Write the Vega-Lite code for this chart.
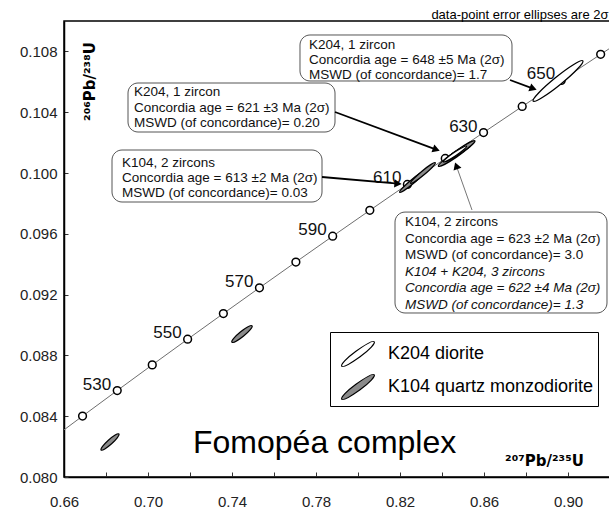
{
  "$schema": "https://vega.github.io/schema/vega-lite/v6.json",
  "width": 546,
  "height": 456,
  "autosize": {"type": "none"},
  "padding": {"left": 64, "top": 21, "right": 0, "bottom": 31},
  "background": "white",
  "title": {"text": "data-point error ellipses are 2σ", "anchor": "end", "fontSize": 13, "fontWeight": "normal", "font": "Liberation Sans", "color": "black", "baseline": "alphabetic", "offset": 4, "dy": 15, "dx": -2},
  "config": {
    "view": {"stroke": "black", "strokeWidth": 1.5},
    "font": "Liberation Sans",
    "axis": {"grid": false, "domainColor": "black", "domainWidth": 1.5, "tickColor": "#333", "tickWidth": 1, "labelColor": "#222", "labelFontSize": 15, "labelFont": "Liberation Sans", "titleColor": "black", "titleFont": "DejaVu Sans"}
  },
  "datasets": {
    "concordia": [
      {"age": 510, "pb207_u235": 0.65247, "pb206_u238": 0.0823274},
      {"age": 520, "pb207_u235": 0.66883, "pb206_u238": 0.0840077},
      {"age": 530, "pb207_u235": 0.68535, "pb206_u238": 0.0856905},
      {"age": 540, "pb207_u235": 0.70203, "pb206_u238": 0.0873761},
      {"age": 550, "pb207_u235": 0.71887, "pb206_u238": 0.0890641},
      {"age": 560, "pb207_u235": 0.73589, "pb206_u238": 0.0907549},
      {"age": 570, "pb207_u235": 0.75307, "pb206_u238": 0.0924482},
      {"age": 580, "pb207_u235": 0.77042, "pb206_u238": 0.0941441},
      {"age": 590, "pb207_u235": 0.78794, "pb206_u238": 0.0958428},
      {"age": 600, "pb207_u235": 0.80563, "pb206_u238": 0.097544},
      {"age": 610, "pb207_u235": 0.82351, "pb206_u238": 0.0992479},
      {"age": 620, "pb207_u235": 0.84155, "pb206_u238": 0.1009545},
      {"age": 630, "pb207_u235": 0.85978, "pb206_u238": 0.1026637},
      {"age": 640, "pb207_u235": 0.87819, "pb206_u238": 0.1043753},
      {"age": 650, "pb207_u235": 0.89678, "pb206_u238": 0.10609},
      {"age": 660, "pb207_u235": 0.91555, "pb206_u238": 0.1078071},
      {"age": 670, "pb207_u235": 0.93451, "pb206_u238": 0.1095269}
    ],
    "concordant": [
      {"sample": "K104 quartz monzodiorite", "pb207_u235": 0.84619, "pb206_u238": 0.101184, "len": 0.01905, "tilt": -34},
      {"sample": "K104 quartz monzodiorite", "pb207_u235": 0.84857, "pb206_u238": 0.101447, "len": 0.01714, "tilt": -34},
      {"sample": "K104 quartz monzodiorite", "pb207_u235": 0.82571, "pb206_u238": 0.099408, "len": 0.01524, "tilt": -40},
      {"sample": "K104 quartz monzodiorite", "pb207_u235": 0.83095, "pb206_u238": 0.1, "len": 0.01524, "tilt": -40},
      {"sample": "K204 diorite", "pb207_u235": 0.84619, "pb206_u238": 0.10125, "len": 0.01333, "tilt": -34},
      {"sample": "K204 diorite", "pb207_u235": 0.89524, "pb206_u238": 0.106053, "len": 0.03048, "tilt": -39}
    ],
    "discordant": [
      {"sample": "K104 quartz monzodiorite", "pb207_u235": 0.74476, "pb206_u238": 0.089408, "len": 0.01238, "tilt": -39},
      {"sample": "K104 quartz monzodiorite", "pb207_u235": 0.6819, "pb206_u238": 0.082303, "len": 0.01143, "tilt": -42}
    ],
    "boxes": [
      {"box": "A", "x1": 0.77238, "x2": 0.87333, "y1": 0.109079, "y2": 0.106053},
      {"box": "B", "x1": 0.69048, "x2": 0.78905, "y1": 0.105921, "y2": 0.102697},
      {"box": "C", "x1": 0.68286, "x2": 0.78286, "y1": 0.101513, "y2": 0.098092},
      {"box": "D", "x1": 0.81762, "x2": 0.91857, "y1": 0.09743, "y2": 0.09079}
    ],
    "notes": [
      {"group": "single", "x": 0.77667, "y": 0.108421, "text": "K204, 1 zircon"},
      {"group": "single", "x": 0.77667, "y": 0.107434, "text": "Concordia age = 648 ±5 Ma (2σ)"},
      {"group": "single", "x": 0.77667, "y": 0.106447, "text": "MSWD (of concordance)= 1.7"},
      {"group": "single", "x": 0.69333, "y": 0.105329, "text": "K204, 1 zircon"},
      {"group": "single", "x": 0.69333, "y": 0.104276, "text": "Concordia age = 621 ±3 Ma (2σ)"},
      {"group": "single", "x": 0.69333, "y": 0.103289, "text": "MSWD (of concordance)= 0.20"},
      {"group": "single", "x": 0.68762, "y": 0.100658, "text": "K104, 2 zircons"},
      {"group": "single", "x": 0.68762, "y": 0.099671, "text": "Concordia age = 613 ±2 Ma (2σ)"},
      {"group": "single", "x": 0.68762, "y": 0.098684, "text": "MSWD (of concordance)= 0.03"},
      {"group": "single", "x": 0.82238, "y": 0.096776, "text": "K104, 2 zircons"},
      {"group": "single", "x": 0.82238, "y": 0.095658, "text": "Concordia age = 623 ±2 Ma (2σ)"},
      {"group": "single", "x": 0.82238, "y": 0.094605, "text": "MSWD (of concordance)= 3.0"},
      {"group": "combined", "x": 0.82238, "y": 0.093487, "text": "K104 + K204, 3 zircons"},
      {"group": "combined", "x": 0.82238, "y": 0.092434, "text": "Concordia age = 622 ±4 Ma (2σ)"},
      {"group": "combined", "x": 0.82238, "y": 0.091316, "text": "MSWD (of concordance)= 1.3"}
    ],
    "arrows": [
      {"arrow": "A", "x1": 0.87238, "y1": 0.106118, "x2": 0.88343, "y2": 0.105553, "head_angle": 20},
      {"arrow": "B", "x1": 0.78905, "y1": 0.104013, "x2": 0.83729, "y2": 0.101539, "head_angle": 20},
      {"arrow": "C", "x1": 0.78286, "y1": 0.099737, "x2": 0.81905, "y2": 0.099296, "head_angle": 5},
      {"arrow": "D", "x1": 0.85429, "y1": 0.097566, "x2": 0.84681, "y2": 0.100474, "head_angle": -109.5}
    ],
    "caption": [
      {"x": 0.72143, "y": 0.081579, "text": "Fomopéa complex"}
    ]
  },
  "layer": [
    {
      "data": {"name": "concordia"},
      "mark": {"type": "line", "color": "#6e6e6e", "strokeWidth": 1, "clip": true},
      "encoding": {
        "x": {"field": "pb207_u235", "type": "quantitative", "scale": {"domain": [0.66, 0.92], "zero": false, "nice": false},
          "axis": {"title": "²⁰⁷Pb/²³⁵U", "titleFontSize": 15, "titleFontWeight": "bold", "titleX": 480, "titleY": -12, "titleAlign": "center", "titleBaseline": "alphabetic",
            "values": [0.66, 0.68, 0.70, 0.72, 0.74, 0.76, 0.78, 0.80, 0.82, 0.84, 0.86, 0.88, 0.90, 0.92],
            "labelExpr": "round(datum.value*100) % 4 == 2 ? format(datum.value, '.2f') : ''",
            "tickSize": -5, "labelPadding": 22, "labelFlush": false}},
        "y": {"field": "pb206_u238", "type": "quantitative", "scale": {"domain": [0.08, 0.11], "zero": false, "nice": false},
          "axis": {"title": "²⁰⁶Pb/²³⁸U", "titleFontSize": 15, "titleFontWeight": "bold", "titleX": 25, "titleY": 60, "titleAngle": -90, "titleAlign": "center", "titleBaseline": "middle",
            "values": [0.080, 0.082, 0.084, 0.086, 0.088, 0.090, 0.092, 0.094, 0.096, 0.098, 0.100, 0.102, 0.104, 0.106, 0.108, 0.110],
            "labelExpr": "round(datum.value*1000) % 4 == 0 ? format(datum.value, '.3f') : ''",
            "tickSize": -4, "labelPadding": 11}}
      }
    },
    {
      "data": {"name": "concordia"},
      "mark": {"type": "point", "shape": "circle", "filled": true, "fill": "white", "stroke": "black", "strokeWidth": 1.5, "size": 60, "opacity": 1, "clip": true},
      "encoding": {
        "x": {"field": "pb207_u235", "type": "quantitative"},
        "y": {"field": "pb206_u238", "type": "quantitative"}
      }
    },
    {
      "data": {"name": "concordia"},
      "transform": [{"filter": "datum.age >= 530 && datum.age <= 650 && datum.age % 20 == 10"}],
      "mark": {"type": "text", "align": "right", "baseline": "alphabetic", "dx": -6, "dy": -1, "fontSize": 17, "font": "Liberation Sans", "color": "#111"},
      "encoding": {
        "x": {"field": "pb207_u235", "type": "quantitative"},
        "y": {"field": "pb206_u238", "type": "quantitative"},
        "text": {"field": "age", "type": "nominal"}
      }
    },
    {
      "data": {"name": "discordant"},
      "mark": {"type": "point", "filled": true, "stroke": "black", "strokeWidth": 1.2, "opacity": 1,
        "shape": "M1,0 C1,0.11 0.552,0.2 0,0.2 C-0.552,0.2 -1,0.11 -1,0 C-1,-0.11 -0.552,-0.2 0,-0.2 C0.552,-0.2 1,-0.11 1,0 Z"},
      "encoding": {
        "x": {"field": "pb207_u235", "type": "quantitative"},
        "y": {"field": "pb206_u238", "type": "quantitative"},
        "color": {"field": "sample", "type": "nominal", "scale": {"domain": ["K204 diorite", "K104 quartz monzodiorite"], "range": ["white", "#8a8a8a"]},
          "legend": {"title": null, "orient": "none", "legendX": 266, "legendY": 311, "strokeColor": "black", "fillColor": "white", "padding": 4,
            "symbolType": "M0.958,-0.722 C1.025,-0.634 0.711,-0.268 0.12,0.16 C-0.441,0.559 -0.892,0.811 -0.958,0.722 C-1.025,0.634 -0.711,0.268 -0.12,-0.16 C0.441,-0.559 0.892,-0.811 0.958,-0.722 Z",
            "symbolSize": 1150, "symbolStrokeColor": "black", "symbolStrokeWidth": 1.2, "symbolOffset": 6, "labelOffset": 12, "labelFontSize": 18, "labelFont": "Liberation Sans", "labelColor": "black", "rowPadding": 0, "labelLimit": 400}},
        "size": {"field": "len", "type": "quantitative", "scale": {"type": "pow", "exponent": 2, "domain": [0, 0.04], "range": [0, 7056]}, "legend": null},
        "angle": {"field": "tilt", "type": "quantitative", "scale": null}
      }
    },
    {
      "data": {"name": "concordant"},
      "mark": {"type": "point", "filled": true, "stroke": "black", "strokeWidth": 1.3, "opacity": 1,
        "shape": "M1,0 C1,0.072 0.552,0.13 0,0.13 C-0.552,0.13 -1,0.072 -1,0 C-1,-0.072 -0.552,-0.13 0,-0.13 C0.552,-0.13 1,-0.072 1,0 Z"},
      "encoding": {
        "x": {"field": "pb207_u235", "type": "quantitative"},
        "y": {"field": "pb206_u238", "type": "quantitative"},
        "color": {"field": "sample", "type": "nominal"},
        "size": {"field": "len", "type": "quantitative", "legend": null},
        "angle": {"field": "tilt", "type": "quantitative", "scale": null}
      }
    },
    {
      "data": {"name": "boxes"},
      "mark": {"type": "rect", "fill": "white", "stroke": "#555", "strokeWidth": 1, "cornerRadius": 10},
      "encoding": {
        "x": {"field": "x1", "type": "quantitative"},
        "x2": {"field": "x2"},
        "y": {"field": "y1", "type": "quantitative"},
        "y2": {"field": "y2"}
      }
    },
    {
      "data": {"name": "notes"},
      "transform": [{"filter": "datum.group == 'single'"}],
      "mark": {"type": "text", "align": "left", "baseline": "middle", "fontSize": 13.5, "font": "Liberation Sans", "color": "#111"},
      "encoding": {
        "x": {"field": "x", "type": "quantitative"},
        "y": {"field": "y", "type": "quantitative"},
        "text": {"field": "text", "type": "nominal"}
      }
    },
    {
      "data": {"name": "notes"},
      "transform": [{"filter": "datum.group == 'combined'"}],
      "mark": {"type": "text", "align": "left", "baseline": "middle", "fontSize": 13.5, "fontStyle": "italic", "font": "Liberation Sans", "color": "#111"},
      "encoding": {
        "x": {"field": "x", "type": "quantitative"},
        "y": {"field": "y", "type": "quantitative"},
        "text": {"field": "text", "type": "nominal"}
      }
    },
    {
      "data": {"name": "arrows"},
      "transform": [{"filter": "datum.arrow != 'D'"}],
      "mark": {"type": "rule", "color": "black", "strokeWidth": 1.8},
      "encoding": {
        "x": {"field": "x1", "type": "quantitative"},
        "y": {"field": "y1", "type": "quantitative"},
        "x2": {"field": "x2"},
        "y2": {"field": "y2"}
      }
    },
    {
      "data": {"name": "arrows"},
      "transform": [{"filter": "datum.arrow == 'D'"}],
      "mark": {"type": "rule", "color": "#777", "strokeWidth": 1},
      "encoding": {
        "x": {"field": "x1", "type": "quantitative"},
        "y": {"field": "y1", "type": "quantitative"},
        "x2": {"field": "x2"},
        "y2": {"field": "y2"}
      }
    },
    {
      "data": {"name": "arrows"},
      "mark": {"type": "point", "shape": "triangle-right", "filled": true, "color": "black", "size": 70, "opacity": 1},
      "encoding": {
        "x": {"field": "x2", "type": "quantitative"},
        "y": {"field": "y2", "type": "quantitative"},
        "angle": {"field": "head_angle", "type": "quantitative", "scale": null}
      }
    },
    {
      "data": {"name": "caption"},
      "mark": {"type": "text", "align": "left", "baseline": "alphabetic", "fontSize": 32, "font": "Liberation Sans", "color": "black"},
      "encoding": {
        "x": {"field": "x", "type": "quantitative"},
        "y": {"field": "y", "type": "quantitative"},
        "text": {"field": "text", "type": "nominal"}
      }
    }
  ]
}
